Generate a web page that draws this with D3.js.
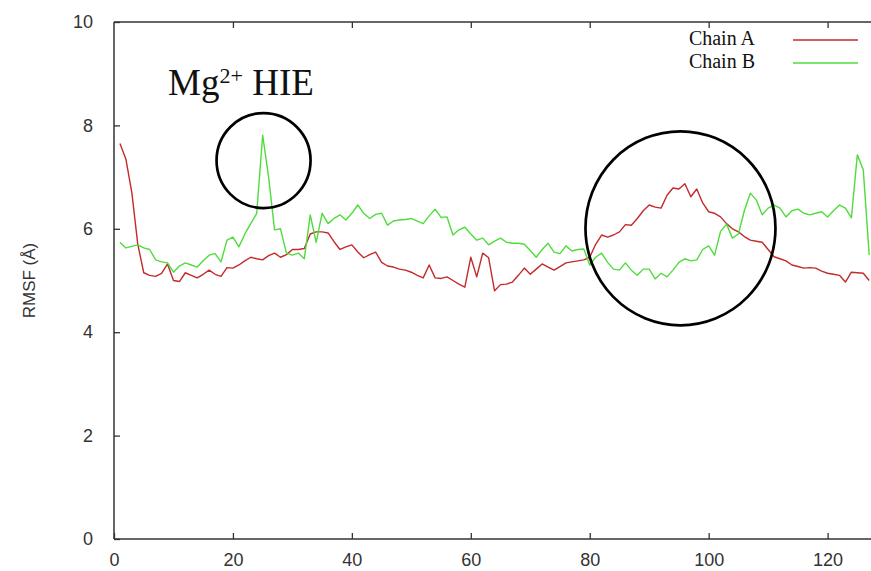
<!DOCTYPE html>
<html>
<head>
<meta charset="utf-8">
<script src="https://cdn.jsdelivr.net/npm/d3@7"></script>
<style>
  body { margin: 0; background: #fff; }
  svg { display: block; }
</style>
</head>
<body>
<div id="chart"></div>
<script>
// RMSF per residue
const chainA = [
  7.65, 7.35, 6.70, 5.70, 5.15, 5.10, 5.08, 5.14, 5.32, 5.00,
  4.98, 5.15, 5.10, 5.05, 5.12, 5.20, 5.12, 5.08, 5.25, 5.24,
  5.30, 5.38, 5.45, 5.42, 5.40, 5.48, 5.53, 5.45, 5.50, 5.60,
  5.60, 5.62, 5.90, 5.94, 5.94, 5.92, 5.75, 5.60, 5.65, 5.69,
  5.55, 5.44, 5.50, 5.55, 5.35, 5.28, 5.26, 5.22, 5.20, 5.16,
  5.10, 5.05, 5.30, 5.05, 5.04, 5.07, 5.00, 4.93, 4.87, 5.45,
  5.07, 5.53, 5.44, 4.80, 4.92, 4.93, 4.97, 5.10, 5.24, 5.12,
  5.22, 5.32, 5.26, 5.20, 5.27, 5.34, 5.36, 5.38, 5.40, 5.45,
  5.70, 5.88, 5.84, 5.88, 5.94, 6.08, 6.07, 6.20, 6.35, 6.46,
  6.42, 6.40, 6.65, 6.79, 6.77, 6.87, 6.62, 6.77, 6.50, 6.33,
  6.30, 6.23, 6.10, 6.00, 5.94, 5.85, 5.78, 5.76, 5.74, 5.60,
  5.46, 5.42, 5.38, 5.30, 5.27, 5.24, 5.25, 5.24, 5.18, 5.14,
  5.12, 5.10, 4.97, 5.16, 5.15, 5.14, 5.00
];
const chainB = [
  5.74, 5.63, 5.66, 5.69, 5.63, 5.60, 5.40, 5.36, 5.34, 5.16,
  5.28, 5.34, 5.30, 5.26, 5.38, 5.49, 5.52, 5.36, 5.78, 5.84,
  5.65, 5.90, 6.10, 6.30, 7.81, 7.00, 5.98, 6.00, 5.53, 5.49,
  5.53, 5.42, 6.27, 5.74, 6.30, 6.10, 6.20, 6.27, 6.17, 6.30,
  6.46, 6.30, 6.20, 6.28, 6.30, 6.07, 6.15, 6.17, 6.18, 6.20,
  6.15, 6.10, 6.25, 6.38, 6.22, 6.23, 5.88, 5.98, 6.03, 5.90,
  5.78, 5.82, 5.69, 5.76, 5.82, 5.74, 5.72, 5.72, 5.70, 5.58,
  5.45, 5.60, 5.72, 5.55, 5.52, 5.67, 5.57, 5.60, 5.61, 5.30,
  5.45, 5.53, 5.35, 5.22, 5.20, 5.34, 5.20, 5.10, 5.22, 5.22,
  5.03, 5.14, 5.07, 5.20, 5.35, 5.42, 5.38, 5.40, 5.60, 5.67,
  5.49, 5.95, 6.09, 5.82, 5.90, 6.35, 6.69, 6.56, 6.27, 6.40,
  6.46, 6.40, 6.23, 6.35, 6.38, 6.30, 6.27, 6.30, 6.33, 6.23,
  6.35, 6.46, 6.40, 6.21, 7.43, 7.14, 5.49
];
const seriesNames = ['Chain A', 'Chain B'];
const seriesColors = ['#c42a2a', '#4fdc3c'];
const xTicks = [0, 20, 40, 60, 80, 100, 120];
const yTicks = [0, 2, 4, 6, 8, 10];

const width = 871, height = 571;
const margin = { left: 114, top: 22, right: 0, bottom: 32 };

const svg = d3.select('#chart').append('svg')
  .attr('width', width)
  .attr('height', height);

const x = d3.scaleLinear().domain([0, 127.3]).range([margin.left, width - margin.right]);
const y = d3.scaleLinear().domain([0, 10]).range([height - margin.bottom, margin.top]);

const axisColor = '#333';
const tickFont = '"Liberation Sans", Arial, sans-serif';

// 坐标轴边框
svg.append('line')
  .attr('x1', x(0)).attr('x2', x(0))
  .attr('y1', y(0)).attr('y2', y(10))
  .attr('stroke', axisColor).attr('stroke-width', 1.5);
svg.append('line')
  .attr('x1', x(0)).attr('x2', width)
  .attr('y1', y(0)).attr('y2', y(0))
  .attr('stroke', axisColor).attr('stroke-width', 1.5);
svg.append('line')
  .attr('x1', x(0)).attr('x2', width)
  .attr('y1', y(10)).attr('y2', y(10))
  .attr('stroke', axisColor).attr('stroke-width', 1.5);

// x 轴刻度（向内）
const xAxis = svg.append('g')
  .attr('transform', `translate(0,${y(0)})`)
  .call(d3.axisBottom(x).tickValues(xTicks).tickSize(-6).tickPadding(14).tickFormat(d3.format('d')));
xAxis.select('.domain').remove();
xAxis.selectAll('line').attr('stroke', axisColor).attr('stroke-width', 1.3);
xAxis.selectAll('text')
  .attr('fill', axisColor)
  .style('font-family', tickFont)
  .style('font-size', '18px');

// 顶部刻度
const xTop = svg.append('g')
  .attr('transform', `translate(0,${y(10)})`)
  .call(d3.axisTop(x).tickValues(xTicks.filter(d => d > 0)).tickSize(-6).tickFormat(''));
xTop.select('.domain').remove();
xTop.selectAll('line').attr('stroke', axisColor).attr('stroke-width', 1.3);

// y 轴
const yAxis = svg.append('g')
  .attr('transform', `translate(${x(0)},0)`)
  .call(d3.axisLeft(y).tickValues(yTicks).tickSize(-6).tickPadding(21).tickFormat(d3.format('d')));
yAxis.select('.domain').remove();
yAxis.selectAll('line').attr('stroke', axisColor).attr('stroke-width', 1.3);
yAxis.selectAll('text')
  .attr('fill', axisColor)
  .style('font-family', tickFont)
  .style('font-size', '18px');

svg.append('text')
  .attr('transform', `translate(35,${(y(0) + y(10)) / 2}) rotate(-90)`)
  .attr('text-anchor', 'middle')
  .attr('fill', axisColor)
  .style('font-family', tickFont)
  .style('font-size', '17px')
  .text('RMSF (Å)');

// 数据线
const line = d3.line()
  .x((d, i) => x(i + 1))
  .y(d => y(d));

[chainA, chainB].forEach((data, k) => {
  svg.append('path')
    .datum(data)
    .attr('fill', 'none')
    .attr('stroke', seriesColors[k])
    .attr('stroke-width', 1.4)
    .attr('stroke-linejoin', 'round')
    .attr('d', line);
});

// 图例
const serif = '"Liberation Serif", "Times New Roman", serif';
seriesNames.forEach((name, k) => {
  const ly = 40 + k * 23;
  svg.append('text')
    .attr('x', 755).attr('y', ly + 5)
    .attr('text-anchor', 'end')
    .style('font-family', serif)
    .style('font-size', '20px')
    .attr('fill', '#111')
    .text(name);
  svg.append('line')
    .attr('x1', 793).attr('x2', 858)
    .attr('y1', ly).attr('y2', ly)
    .attr('stroke', seriesColors[k])
    .attr('stroke-width', 1.4);
});

// 注释
const label = svg.append('text')
  .attr('x', x(9.1)).attr('y', y(8.59))
  .style('font-family', serif)
  .style('font-size', '37px')
  .attr('fill', '#111');
label.append('tspan').text('Mg');
label.append('tspan').attr('dy', -12).style('font-size', '22px').text('2+');
label.append('tspan').attr('dy', 12).text(' HIE');

svg.append('ellipse')
  .attr('cx', x(25.15)).attr('cy', y(7.32))
  .attr('rx', 47).attr('ry', 47.5)
  .attr('fill', 'none').attr('stroke', '#000').attr('stroke-width', 2.7);

svg.append('ellipse')
  .attr('cx', x(95.26)).attr('cy', y(6.01))
  .attr('rx', 95).attr('ry', 97)
  .attr('fill', 'none').attr('stroke', '#000').attr('stroke-width', 2.7);
</script>
</body>
</html>
